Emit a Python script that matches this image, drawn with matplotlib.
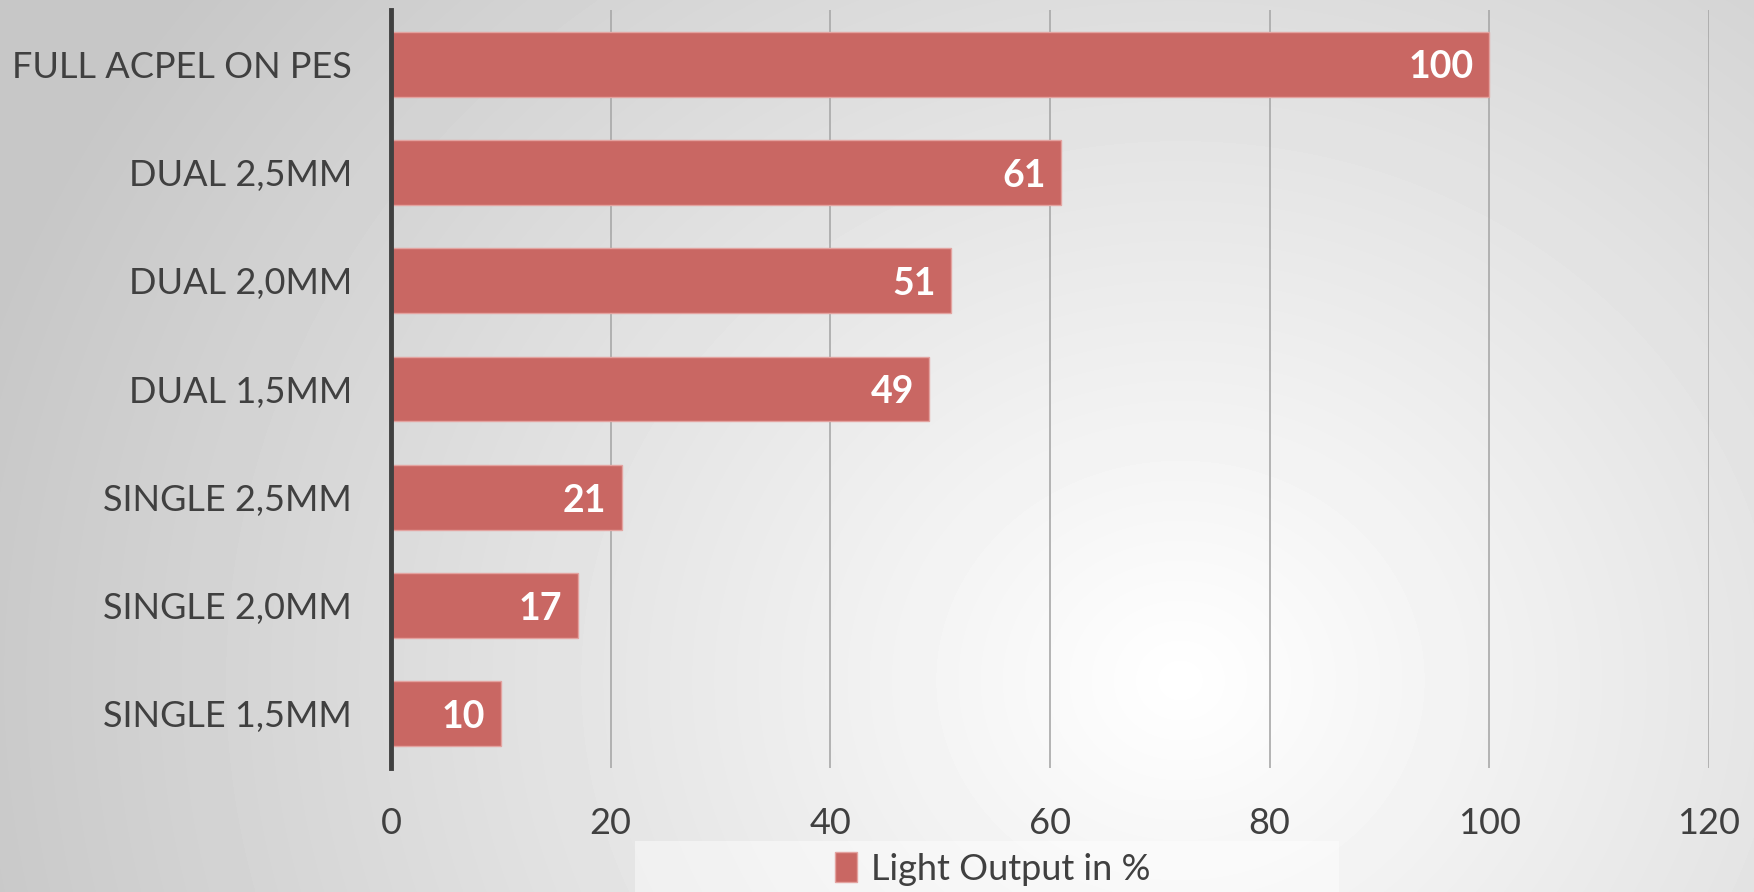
import matplotlib
matplotlib.use('Agg')
import matplotlib.pyplot as plt
import matplotlib.patches as patches
import numpy as np

# Data (top to bottom as shown)
categories = ["FULL ACPEL ON PES", "DUAL 2,5MM", "DUAL 2,0MM", "DUAL 1,5MM",
              "SINGLE 2,5MM", "SINGLE 2,0MM", "SINGLE 1,5MM"]
values = [100, 61, 51, 49, 21, 17, 10]
series_name = "Light Output in %"
xticks = [0, 20, 40, 60, 80, 100, 120]

plt.rcParams['font.family'] = ['Lato', 'DejaVu Sans']
text_color = '#404040'
bar_color = '#C96763'

W, H = 1754, 892
fig = plt.figure(figsize=(W / 100, H / 100), dpi=100)

# Radial grey background, whitest around lower middle-right
bg = fig.add_axes([0, 0, 1, 1], zorder=0)
yy, xx = np.mgrid[0:H, 0:W]
r = np.sqrt(((xx - 1180) / 1.0) ** 2 + ((yy - 680) / 0.9) ** 2)
shade = 1.0 - 0.22 * np.clip(r / 1250, 0, 1) ** 1.0
bg.imshow(shade, cmap='gray', vmin=0, vmax=1, aspect='auto', extent=[0, 1, 0, 1])
bg.axis('off')

ax = fig.add_axes([391 / W, 1 - 768 / H, (1709 - 391) / W, (768 - 10) / H], zorder=1)
ax.set_facecolor('none')

ypos = np.arange(len(categories))
ax.barh(ypos, values, height=0.6, color=bar_color, edgecolor='#E3A3A0', linewidth=1, zorder=3)
for y, v in zip(ypos, values):
    ax.text(v - 1.4, y + 0.03, str(v), ha='right', va='center', fontsize=27,
            fontweight='bold', color='white', zorder=4)

ax.set_xlim(0, 120)
ax.set_ylim(len(categories) - 0.5, -0.5)
ax.set_xticks(xticks)
ax.set_yticks(ypos)
ax.set_yticklabels(categories)
ax.tick_params(axis='both', length=0, labelsize=26, labelcolor=text_color)
ax.tick_params(axis='y', pad=28)
ax.tick_params(axis='x', pad=28)
ax.xaxis.grid(True, color='#A8A8A8', linewidth=1.2, zorder=0)
ax.set_axisbelow(True)
for s in ['top', 'right', 'bottom']:
    ax.spines[s].set_visible(False)
ax.spines['left'].set_color('#404040')
ax.spines['left'].set_linewidth(3.5)
ax.spines['left'].set_zorder(5)

# Lighter legend band
fig.patches.append(patches.Rectangle((635 / W, 0), (1339 - 635) / W, (892 - 841) / H,
                                     transform=fig.transFigure, facecolor='white',
                                     alpha=0.45, edgecolor='none', zorder=1))
handle = patches.Patch(facecolor=bar_color, edgecolor='#E3A3A0', label=series_name)
fig.legend(handles=[handle], loc='center', bbox_to_anchor=(993 / W, 1 - 869 / H),
           frameon=False, fontsize=26, labelcolor=text_color,
           handlelength=0.6, handleheight=0.9, handletextpad=0.4)

plt.savefig('out.png', dpi=100)
